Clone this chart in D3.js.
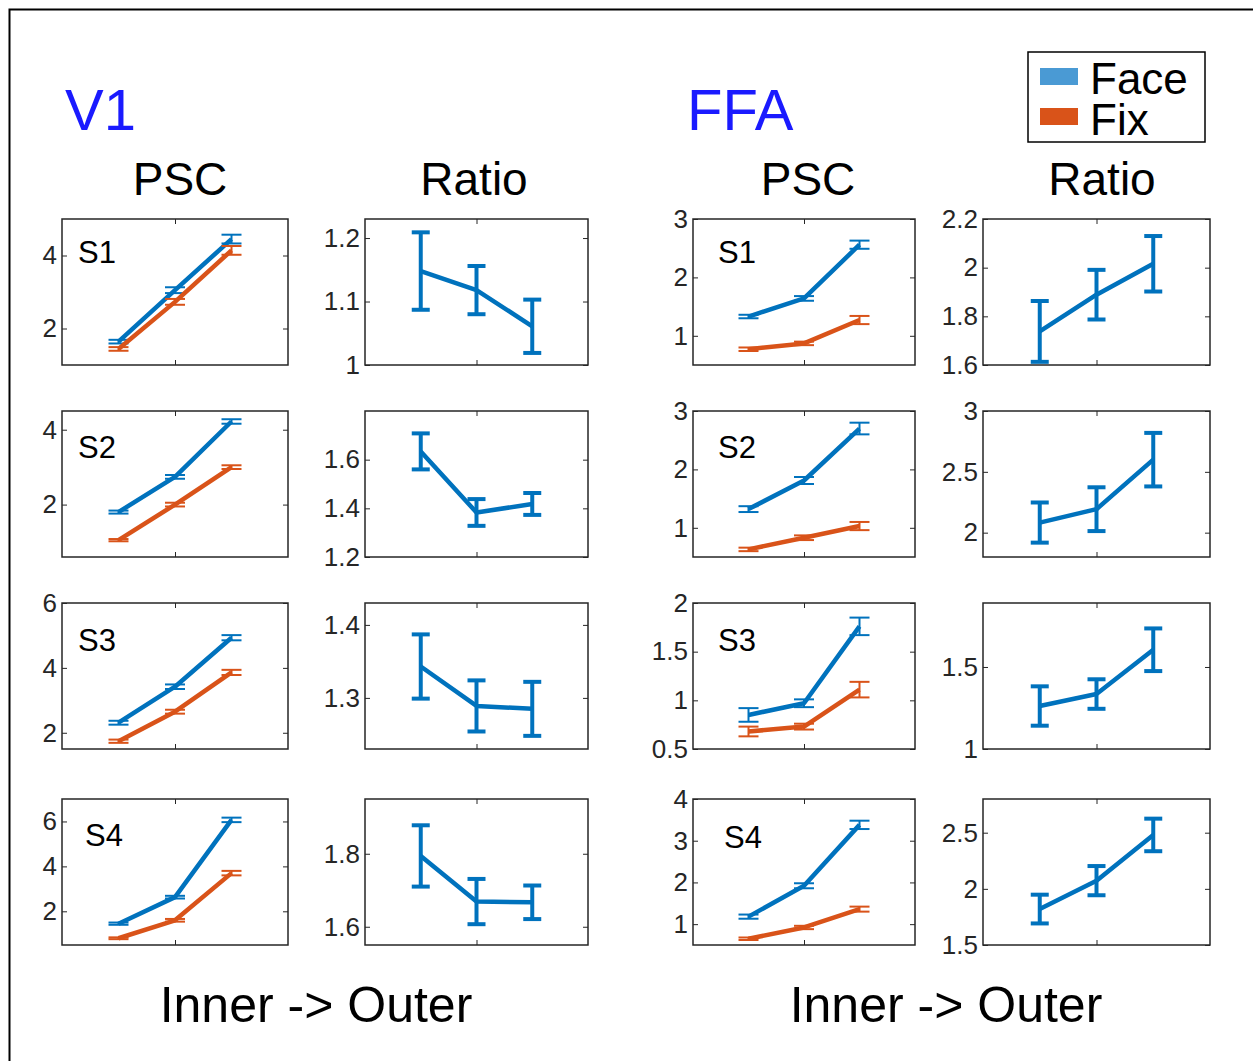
<!DOCTYPE html>
<html>
<head>
<meta charset="utf-8">
<script src="https://cdn.jsdelivr.net/npm/d3@7/dist/d3.min.js"></script>
<style>
  body { margin: 0; background: #fff; }
  text { font-family: "Liberation Sans", Arial, sans-serif; }
</style>
</head>
<body>
<div id="chart-area"></div>
<script>
// ---- data ----
const subjects = ["S1", "S2", "S3", "S4"];
const positions = [1, 2, 3];

// V1 PSC
const v1FaceMean = [[1.64, 3.05, 4.45], [1.8, 2.74, 4.22], [2.31, 3.42, 4.93], [1.45, 2.63, 6.07]];
const v1FaceErr = [[0.05, 0.08, 0.12], [0.04, 0.05, 0.06], [0.06, 0.07, 0.08], [0.05, 0.06, 0.1]];
const v1FixMean = [[1.44, 2.73, 4.14], [1.05, 2.0, 3.0], [1.74, 2.65, 3.86], [0.8, 1.6, 3.7]];
const v1FixErr = [[0.05, 0.08, 0.12], [0.03, 0.05, 0.05], [0.05, 0.06, 0.08], [0.04, 0.06, 0.1]];
// V1 Ratio
const v1RatioMean = [[1.148, 1.118, 1.061], [1.634, 1.383, 1.418], [1.343, 1.289, 1.285], [1.794, 1.669, 1.667]];
const v1RatioErr = [[0.061, 0.038, 0.042], [0.074, 0.055, 0.045], [0.044, 0.035, 0.037], [0.084, 0.062, 0.046]];

// FFA PSC
const ffaFaceMean = [[1.33, 1.64, 2.56], [1.32, 1.81, 2.7], [0.85, 0.97, 1.76], [1.18, 1.92, 3.38]];
const ffaFaceErr = [[0.03, 0.04, 0.07], [0.05, 0.06, 0.1], [0.07, 0.04, 0.09], [0.05, 0.06, 0.1]];
const ffaFixMean = [[0.77, 0.87, 1.27], [0.63, 0.83, 1.03], [0.68, 0.73, 1.11], [0.65, 0.92, 1.36]];
const ffaFixErr = [[0.03, 0.03, 0.07], [0.03, 0.04, 0.07], [0.05, 0.03, 0.08], [0.03, 0.04, 0.06]];
// FFA Ratio
const ffaRatioMean = [[1.738, 1.889, 2.016], [2.083, 2.193, 2.6], [1.262, 1.335, 1.605], [1.82, 2.073, 2.48]];
const ffaRatioErr = [[0.125, 0.102, 0.114], [0.165, 0.18, 0.22], [0.12, 0.09, 0.13], [0.128, 0.13, 0.145]];

// axis limits and tick labels
const v1PscDomain = [[1, 5], [0.6, 4.5], [1.5, 6], [0.5, 7]];
const v1PscTicks = [[2, 4], [2, 4], [2, 4, 6], [2, 4, 6]];
const v1RatioDomain = [[1, 1.23], [1.2, 1.8], [1.23, 1.43], [1.55, 1.95]];
const v1RatioTicks = [[1, 1.1, 1.2], [1.2, 1.4, 1.6], [1.3, 1.4], [1.6, 1.8]];
const ffaPscDomain = [[0.5, 3], [0.5, 3], [0.5, 2], [0.5, 4]];
const ffaPscTicks = [[1, 2, 3], [1, 2, 3], [0.5, 1, 1.5, 2], [1, 2, 3, 4]];
const ffaRatioDomain = [[1.6, 2.2], [1.8, 3], [1, 1.89], [1.5, 2.8]];
const ffaRatioTicks = [[1.6, 1.8, 2, 2.2], [2, 2.5, 3], [1, 1.5], [1.5, 2, 2.5]];

const faceColor = "#0072BD", fixColor = "#D95319";

// ---- layout ----
const W = 1253, H = 1061;
const cols = [[62, 288], [365, 588], [693, 915], [983, 1210]];
const rowTops = [219, 411, 603, 799], boxH = 146;
const labelPos = [[[16, 44], [16, 47], [16, 48], [23, 47]], [[25, 44], [25, 47], [25, 48], [31, 49]]];

const svg = d3.select("#chart-area").append("svg").attr("width", W).attr("height", H);

svg.append("rect").attr("x", 9.5).attr("y", 9.5).attr("width", W).attr("height", H)
  .attr("fill", "none").attr("stroke", "#000").attr("stroke-width", 2);

function panel(colIdx, row, domain, ticks, series, isRatio, label, lp) {
  const [x0, x1] = cols[colIdx];
  const y0 = rowTops[row];
  const g = svg.append("g");
  const x = d3.scaleLinear().domain([0, 4]).range([x0, x1]);
  const y = d3.scaleLinear().domain(domain).range([y0 + boxH, y0]);

  // box
  g.append("rect").attr("x", x0).attr("y", y0).attr("width", x1 - x0).attr("height", boxH)
    .attr("fill", "#fff").attr("stroke", "#262626").attr("stroke-width", 1.5);

  // axes with inward ticks
  const fmt = d => d3.format("~g")(d);
  g.append("g").attr("transform", `translate(${x0},0)`)
    .call(d3.axisLeft(y).tickValues(ticks).tickSize(-5).tickPadding(5).tickFormat(fmt))
    .call(a => a.select(".domain").remove())
    .call(a => a.selectAll("line").attr("stroke", "#262626"))
    .call(a => a.selectAll("text").attr("fill", "#262626").style("font-size", "26px")
      .style("font-family", "'Liberation Sans', Arial, sans-serif"));
  g.append("g").attr("transform", `translate(${x1},0)`)
    .call(d3.axisRight(y).tickValues(ticks).tickSize(-5).tickFormat(""))
    .call(a => a.select(".domain").remove())
    .call(a => a.selectAll("line").attr("stroke", "#262626"));
  g.append("g").attr("transform", `translate(0,${y0 + boxH})`)
    .call(d3.axisBottom(x).tickValues([2]).tickSize(-5).tickFormat(""))
    .call(a => a.select(".domain").remove())
    .call(a => a.selectAll("line").attr("stroke", "#262626"));
  g.append("g").attr("transform", `translate(0,${y0})`)
    .call(d3.axisTop(x).tickValues([2]).tickSize(-5).tickFormat(""))
    .call(a => a.select(".domain").remove())
    .call(a => a.selectAll("line").attr("stroke", "#262626"));

  const line = d3.line().x((d, i) => x(positions[i])).y(d => y(d));
  const capW = isRatio ? 9 : 10;
  const errW = isRatio ? 4 : 2;

  series.forEach(s => {
    g.append("path").datum(s.mean).attr("d", line)
      .attr("fill", "none").attr("stroke", s.color).attr("stroke-width", 4.5)
      .attr("stroke-linejoin", "round");
    const eb = g.append("g").attr("stroke", s.color).attr("stroke-width", errW);
    s.mean.forEach((m, i) => {
      const cx = x(positions[i]), lo = y(m - s.err[i]), hi = y(m + s.err[i]);
      eb.append("line").attr("x1", cx).attr("x2", cx).attr("y1", lo).attr("y2", hi);
      eb.append("line").attr("x1", cx - capW).attr("x2", cx + capW).attr("y1", lo).attr("y2", lo);
      eb.append("line").attr("x1", cx - capW).attr("x2", cx + capW).attr("y1", hi).attr("y2", hi);
    });
  });

  if (label) {
    g.append("text").attr("x", x0 + lp[0]).attr("y", y0 + lp[1])
      .style("font-size", "31px").attr("fill", "#000").text(label);
  }
}

subjects.forEach((s, r) => {
  panel(0, r, v1PscDomain[r], v1PscTicks[r], [
    { mean: v1FaceMean[r], err: v1FaceErr[r], color: faceColor },
    { mean: v1FixMean[r], err: v1FixErr[r], color: fixColor }
  ], false, s, labelPos[0][r]);
  panel(1, r, v1RatioDomain[r], v1RatioTicks[r], [
    { mean: v1RatioMean[r], err: v1RatioErr[r], color: faceColor }
  ], true);
  panel(2, r, ffaPscDomain[r], ffaPscTicks[r], [
    { mean: ffaFaceMean[r], err: ffaFaceErr[r], color: faceColor },
    { mean: ffaFixMean[r], err: ffaFixErr[r], color: fixColor }
  ], false, s, labelPos[1][r]);
  panel(3, r, ffaRatioDomain[r], ffaRatioTicks[r], [
    { mean: ffaRatioMean[r], err: ffaRatioErr[r], color: faceColor }
  ], true);
});

// titles
svg.append("text").attr("x", 65).attr("y", 130).style("font-size", "58px").attr("fill", "#1a1aff").text("V1");
svg.append("text").attr("x", 687).attr("y", 130).style("font-size", "58px").attr("fill", "#1a1aff").text("FFA");
[["PSC", 180], ["Ratio", 474], ["PSC", 808], ["Ratio", 1102]].forEach(([t, cx]) => {
  svg.append("text").attr("x", cx).attr("y", 195).attr("text-anchor", "middle")
    .style("font-size", "46px").text(t);
});
[316, 946].forEach(cx => {
  svg.append("text").attr("x", cx).attr("y", 1022).attr("text-anchor", "middle")
    .style("font-size", "50px").text("Inner -> Outer");
});

// legend
const leg = svg.append("g");
leg.append("rect").attr("x", 1028).attr("y", 52).attr("width", 177).attr("height", 90)
  .attr("fill", "#fff").attr("stroke", "#000").attr("stroke-width", 1.5);
[["Face", "#4a9ad4", 68, 94], ["Fix", fixColor, 108, 135]].forEach(([t, c, sy, ty]) => {
  leg.append("rect").attr("x", 1040).attr("y", sy).attr("width", 38).attr("height", 17).attr("fill", c);
  leg.append("text").attr("x", 1090).attr("y", ty).style("font-size", "44px").text(t);
});
</script>
</body>
</html>
